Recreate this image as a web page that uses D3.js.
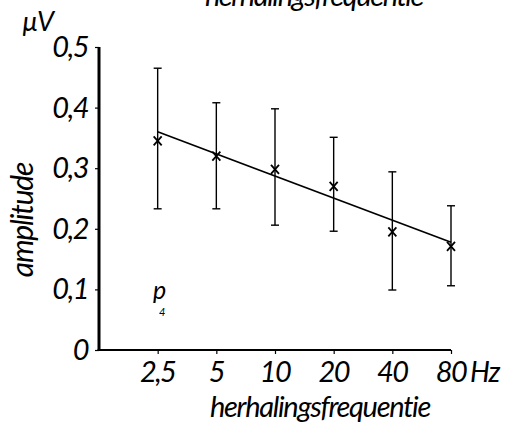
<!DOCTYPE html>
<html>
<head>
<meta charset="utf-8">
<script src="https://cdn.jsdelivr.net/npm/d3@7"></script>
<style>
  html, body { margin: 0; padding: 0; background: #fff; }
  svg { display: block; }
  text { font-family: Lato, "Open Sans", "DejaVu Sans", sans-serif; font-style: italic; font-weight: 400; fill: #000; }
</style>
</head>
<body>
<svg id="chart" width="513" height="427"></svg>
<script>
// ---- data ----
const frequencies = [2.5, 5, 10, 20, 40, 80];
const freqLabels = ["2,5", "5", "10", "20", "40", "80"];
const amplitude = [0.345, 0.320, 0.298, 0.270, 0.195, 0.171];
const errTop = [0.465, 0.408, 0.398, 0.351, 0.294, 0.238];
const errBottom = [0.233, 0.233, 0.206, 0.196, 0.099, 0.106];
const yTicks = [0, 0.1, 0.2, 0.3, 0.4, 0.5];
const yTickLabels = ["0", "0,1", "0,2", "0,3", "0,4", "0,5"];
const fitFreq = [2.5, 80];
const fitAmp = [0.360, 0.178];

// ---- layout ----
const svg = d3.select("#chart");
const x = d3.scaleLog().base(2).domain([1.25, 80]).range([99, 451]);
const y = d3.scaleLinear().domain([0, 0.5]).range([350, 47]);

// title (cut off at top, as in the original)
svg.append("text")
  .attr("x", 314).attr("y", 6)
  .attr("text-anchor", "middle")
  .style("font-size", "29px")
  .style("letter-spacing", "-1.4px")
  .text("herhalingsfrequentie");

// y axis
const yAxis = d3.axisLeft(y).tickValues(yTicks).tickSize(4).tickFormat("");
const gy = svg.append("g").attr("transform", "translate(99,0)").call(yAxis);
gy.select(".domain").attr("stroke", "#000").attr("stroke-width", 3)
  .attr("d", `M0,${y(0.5)}V${y(0) + 1}`);
gy.selectAll(".tick line").attr("stroke", "#000").attr("stroke-width", 1.2);

yTicks.forEach((t, i) => {
  svg.append("text")
    .attr("x", 88).attr("y", y(t) + 10)
    .attr("text-anchor", "end")
    .style("font-size", "29px")
    .style("letter-spacing", "-1.5px")
    .text(yTickLabels[i]);
});

// x axis
const xAxis = d3.axisBottom(x).tickValues(frequencies).tickSize(4).tickFormat("");
const gx = svg.append("g").attr("transform", `translate(0,${y(0)})`).call(xAxis);
gx.select(".domain").attr("stroke", "#000").attr("stroke-width", 2)
  .attr("d", `M${x(1.25) - 1.5},0H${x(80)}`);
gx.selectAll(".tick line").attr("stroke", "#000").attr("stroke-width", 1.2);

frequencies.forEach((f, i) => {
  svg.append("text")
    .attr("x", x(f)).attr("y", 382)
    .attr("text-anchor", "middle")
    .style("font-size", "29px")
    .style("letter-spacing", "-1.6px")
    .text(freqLabels[i]);
});
svg.append("text")
  .attr("x", 470).attr("y", 382)
  .style("font-size", "28px")
  .style("letter-spacing", "-1px")
  .text("Hz");

// axis titles
svg.append("text")
  .attr("x", 320).attr("y", 417)
  .attr("text-anchor", "middle")
  .style("font-size", "29px")
  .style("letter-spacing", "-1.3px")
  .text("herhalingsfrequentie");

svg.append("text")
  .attr("transform", "translate(33,220) rotate(-90)")
  .attr("text-anchor", "middle")
  .style("font-size", "30px")
  .style("letter-spacing", "-1.2px")
  .text("amplitude");

svg.append("text")
  .attr("x", 22).attr("y", 31)
  .style("font-size", "27px")
  .style("letter-spacing", "-1.5px")
  .text("µV");

// p4 label
svg.append("text").attr("x", 153).attr("y", 299).style("font-size", "25px").text("p");
svg.append("text").attr("x", 159).attr("y", 316).style("font-size", "11px").text("4");

// fit line
svg.append("line")
  .attr("x1", x(fitFreq[0])).attr("y1", y(fitAmp[0]))
  .attr("x2", x(fitFreq[1])).attr("y2", y(fitAmp[1]))
  .attr("stroke", "#000").attr("stroke-width", 1.6);

// error bars
const eb = svg.append("g").attr("stroke", "#000");
frequencies.forEach((f, i) => {
  const cx = x(f);
  eb.append("line").attr("x1", cx).attr("x2", cx)
    .attr("y1", y(errTop[i])).attr("y2", y(errBottom[i])).attr("stroke-width", 1.4);
  [errTop[i], errBottom[i]].forEach(v => {
    eb.append("line").attr("x1", cx - 4).attr("x2", cx + 4)
      .attr("y1", y(v)).attr("y2", y(v)).attr("stroke-width", 1.4);
  });
  const cy = y(amplitude[i]);
  eb.append("path")
    .attr("d", `M${cx - 4},${cy - 4.5}L${cx + 4},${cy + 4.5}M${cx + 4},${cy - 4.5}L${cx - 4},${cy + 4.5}`)
    .attr("stroke-width", 1.8).attr("fill", "none");
});
</script>
</body>
</html>
